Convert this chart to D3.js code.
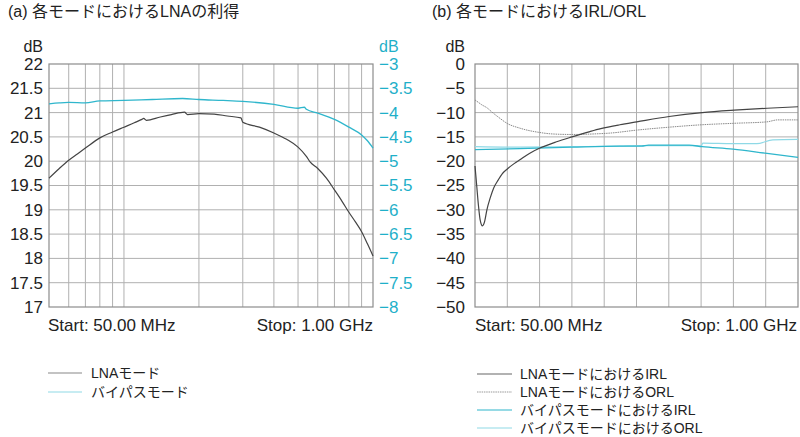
<!DOCTYPE html>
<html><head><meta charset="utf-8">
<script src="https://cdn.jsdelivr.net/npm/d3@7"></script>
<style>
body{margin:0;background:#fff;}
svg{display:block;font-family:"Liberation Sans","Noto Sans CJK JP",sans-serif;}
</style></head><body>
<svg id="c" width="800" height="437"></svg>
<script>
// ---------- data ----------
const freqA_LNA = [50,55,60,65,70,80,90,100,110,118,120,123,140,155,175,180,200,230,260,295,300,350,400,450,500,540,560,600,650,700,750,800,850,900,950,1000];
const gainLNA   = [19.65,19.85,20.02,20.15,20.27,20.48,20.60,20.70,20.79,20.86,20.88,20.84,20.91,20.96,21.01,20.96,20.98,20.97,20.93,20.89,20.80,20.70,20.58,20.45,20.29,20.10,19.98,19.85,19.65,19.41,19.18,18.95,18.75,18.55,18.30,18.05];
const freqA_BP  = [50,55,60,70,80,100,130,172,200,250,300,400,500,530,540,600,700,800,900,950,1000];
const gainBP    = [-3.82,-3.80,-3.79,-3.80,-3.76,-3.75,-3.73,-3.71,-3.73,-3.75,-3.77,-3.83,-3.91,-3.89,-3.93,-4.01,-4.14,-4.30,-4.46,-4.58,-4.73];

const freqB_LNA_IRL = [50,55,60,65,72,78,85,95,105,118,130,145,165,182,210,241,290,335,388,420,476,526,621,718,812,909,1000];
const lnaIRL        = [-21,-25,-29,-32,-33.3,-32.5,-30,-27.5,-25.5,-23.9,-22.6,-21.6,-20.5,-19.7,-18.4,-17.3,-16.0,-15.0,-13.9,-13.3,-12.5,-11.9,-10.8,-10.0,-9.5,-9.1,-8.8];
const freqB_LNA_ORL = [50,60,70,85,100,120,144,182,241,279,335,397,450,526,621,718,812,909,940,1000];
const lnaORL        = [-7.4,-7.9,-8.4,-9.0,-9.9,-11.0,-12.2,-13.2,-14.1,-14.4,-14.5,-14.4,-14.2,-13.6,-13.0,-12.5,-12.2,-11.9,-11.5,-11.5];
const freqB_BP_IRL  = [50,182,335,476,540,560,680,718,809,909,1000];
const bpIRL         = [-17.6,-17.4,-17.1,-16.9,-16.9,-16.7,-16.7,-17.0,-17.5,-18.4,-19.2];
const freqB_BP_ORL  = [50,182,335,476,540,680,715,720,809,879,926,1000];
const bpORL         = [-17.0,-17.1,-17.0,-16.9,-16.8,-16.8,-16.9,-16.3,-16.4,-16.4,-15.6,-15.5];

const gridA_freq = [60,70,80,90,100,200,300,400,500,600,700,800,900];
const ticksA_left  = [17,17.5,18,18.5,19,19.5,20,20.5,21,21.5,22];
const ticksA_right = [-8,-7.5,-7,-6.5,-6,-5.5,-5,-4.5,-4,-3.5,-3];
const gridB_freq = [145,240,335,430,525,620,715,810,905];
const ticksB = [-50,-45,-40,-35,-30,-25,-20,-15,-10,-5,0];

const titleA = "(a) 各モードにおけるLNAの利得";
const titleB = "(b) 各モードにおけるIRL/ORL";
const legendA = ["LNAモード","バイパスモード"];
const legendB = ["LNAモードにおけるIRL","LNAモードにおけるORL","バイパスモードにおけるIRL","バイパスモードにおけるORL"];

// ---------- styles ----------
const CYAN = "#2fb6cc", CYAN_L = "#8fd9e6", DARK = "#444", MID = "#8a8a8a";
const GRID = "#b0b0b0", FRAME = "#8c8c8c";
const fmt = d => String(d).replace("-", "\u2212");

const svg = d3.select("#c");

function grid(g, x, y, xs, ys, x0, x1, y0, y1) {
  g.selectAll("line.v").data(xs).join("line")
    .attr("x1", d => x(d)).attr("x2", d => x(d)).attr("y1", y0).attr("y2", y1)
    .attr("stroke", GRID).attr("stroke-width", 1);
  g.selectAll("line.h").data(ys).join("line")
    .attr("x1", x0).attr("x2", x1).attr("y1", d => y(d)).attr("y2", d => y(d))
    .attr("stroke", GRID).attr("stroke-width", 1);
  g.append("rect").attr("x", x0).attr("y", y0).attr("width", x1 - x0).attr("height", y1 - y0)
    .attr("fill", "none").attr("stroke", FRAME).attr("stroke-width", 1.2);
}
function addText(g, x, y, t, opts = {}) {
  return g.append("text").attr("x", x).attr("y", y).text(t)
    .attr("font-size", opts.size || 17).attr("fill", opts.fill || "#222")
    .attr("text-anchor", opts.anchor || "start").attr("dominant-baseline", opts.base || "central");
}
function drawLine(g, x, y, fx, fy, color, w, dash) {
  const data = fx.map((f, i) => [f, fy[i]]);
  g.append("path").datum(data)
    .attr("d", d3.line().x(d => x(d[0])).y(d => y(d[1])).curve(d3.curveMonotoneX))
    .attr("fill", "none").attr("stroke", color).attr("stroke-width", w)
    .attr("stroke-dasharray", dash || null);
}

// ---------- chart (a) ----------
{
  const L = 49, R = 373, T = 64, B = 307;
  const x = d3.scaleLog().domain([50, 1000]).range([L, R]);
  const y = d3.scaleLinear().domain([17, 22]).range([B, T]);
  const y2 = d3.scaleLinear().domain([-8, -3]).range([B, T]);
  const g = svg.append("g");
  grid(g, x, y, gridA_freq, ticksA_left.slice(1, -1), L, R, T, B);

  const ax = g.append("g").attr("transform", `translate(${L},0)`)
    .call(d3.axisLeft(y).tickValues(ticksA_left).tickSize(0).tickPadding(6).tickFormat(fmt));
  ax.select(".domain").remove();
  ax.selectAll("text").attr("font-size", 17).attr("fill", "#222").attr("font-family", null);
  const ax2 = g.append("g").attr("transform", `translate(${R},0)`)
    .call(d3.axisRight(y2).tickValues(ticksA_right).tickSize(0).tickPadding(6).tickFormat(fmt));
  ax2.select(".domain").remove();
  ax2.selectAll("text").attr("font-size", 17).attr("fill", "#1fb0c9").attr("font-family", null);

  addText(g, L - 6, 46, "dB", {anchor: "end", size: 16});
  addText(g, R + 6, 46, "dB", {fill: "#1fb0c9", size: 16});

  drawLine(g, x, y2, freqA_BP, gainBP, CYAN, 1.3);
  drawLine(g, x, y, freqA_LNA, gainLNA, DARK, 1.2);

  addText(g, L - 1, 325, "Start: 50.00 MHz");
  addText(g, R, 325, "Stop: 1.00 GHz", {anchor: "end"});
  addText(g, 8, 11, titleA, {size: 16});

  legendA.forEach((t, i) => {
    const ly = 373 + i * 19;
    g.append("line").attr("x1", 48).attr("x2", 82).attr("y1", ly).attr("y2", ly)
      .attr("stroke", i === 0 ? "#888" : CYAN_L).attr("stroke-width", 1.2);
    addText(g, 91, ly, t, {size: 14});
  });
}

// ---------- chart (b) ----------
{
  const L = 475, R = 798, T = 64, B = 307;
  const x = d3.scaleLinear().domain([50, 1000]).range([L, R]);
  const y = d3.scaleLinear().domain([-50, 0]).range([B, T]);
  const g = svg.append("g");
  grid(g, x, y, gridB_freq, ticksB.slice(1, -1), L, R, T, B);

  const ax = g.append("g").attr("transform", `translate(${L},0)`)
    .call(d3.axisLeft(y).tickValues(ticksB).tickSize(0).tickPadding(10).tickFormat(fmt));
  ax.select(".domain").remove();
  ax.selectAll("text").attr("font-size", 17).attr("fill", "#222").attr("font-family", null);
  addText(g, L - 10, 46, "dB", {anchor: "end", size: 16});

  drawLine(g, x, y, freqB_BP_ORL, bpORL, CYAN_L, 1.2);
  drawLine(g, x, y, freqB_BP_IRL, bpIRL, CYAN, 1.3);
  drawLine(g, x, y, freqB_LNA_ORL, lnaORL, MID, 1, "1.5,0.8");
  drawLine(g, x, y, freqB_LNA_IRL, lnaIRL, DARK, 1.2);

  addText(g, L, 325, "Start: 50.00 MHz");
  addText(g, R - 1, 325, "Stop: 1.00 GHz", {anchor: "end"});
  addText(g, 432, 11, titleB, {size: 16});

  const cols = ["#666", "#999", CYAN, CYAN_L];
  const dashes = [null, "1.5,0.8", null, null];
  legendB.forEach((t, i) => {
    const ly = 374 + i * 18;
    g.append("line").attr("x1", 477).attr("x2", 512).attr("y1", ly).attr("y2", ly)
      .attr("stroke", cols[i]).attr("stroke-width", 1.1).attr("stroke-dasharray", dashes[i]);
    addText(g, 520, ly, t, {size: 14});
  });
}
</script>
</body></html>
